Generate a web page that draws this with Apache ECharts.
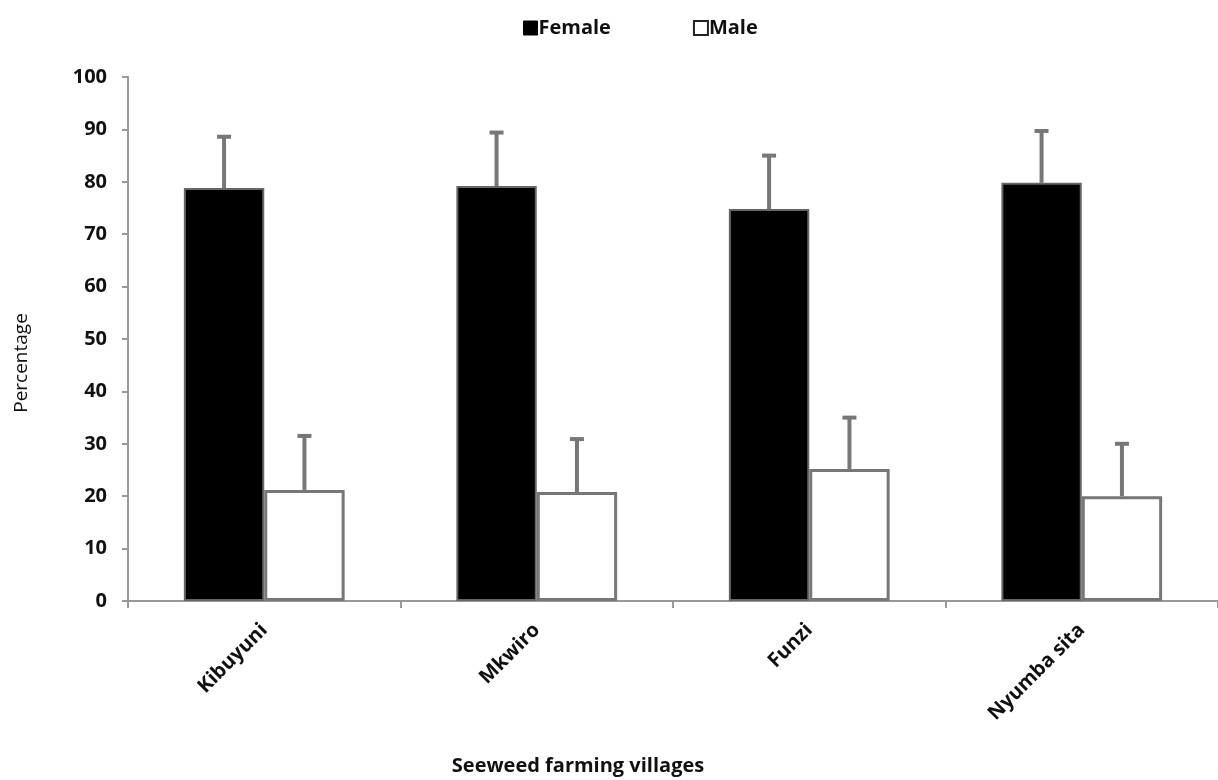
<!DOCTYPE html>
<html>
<head>
<meta charset="utf-8">
<script src="https://cdn.jsdelivr.net/npm/echarts@6/dist/echarts.min.js"></script>
<style>
  html, body { margin: 0; padding: 0; background: #fff; }
  #main { width: 1218px; height: 780px; }
</style>
</head>
<body>
<div id="main"></div>
<script>
var villages = ['Kibuyuni', 'Mkwiro', 'Funzi', 'Nyumba sita'];
var female = [78.8, 79.2, 74.8, 79.8];
var male = [21.2, 20.8, 25.2, 20.0];
var femaleErr = [9.8, 10.2, 10.2, 9.9];
var maleErr = [10.3, 10.1, 9.8, 10.0];
var yTicks = [0, 10, 20, 30, 40, 50, 60, 70, 80, 90, 100];

var gapPct = 0.41;
var chart = echarts.init(document.getElementById('main'));

// error bar, drawn only upward like the original
function errBar(vals, errs, side) {
  return function (params, api) {
    var i = api.value(0);
    var band = api.size([1, 0])[0];
    var bw = band * (1 - gapPct) / 2;
    var top = api.coord([i, vals[i] + errs[i]]);
    var base = api.coord([i, vals[i]]);
    var x = base[0] + side * bw / 2;
    var st = { stroke: '#777', lineWidth: 4 };
    return {
      type: 'group',
      children: [
        { type: 'line', shape: { x1: x, y1: base[1], x2: x, y2: top[1] }, style: st },
        { type: 'line', shape: { x1: x - 7, y1: top[1], x2: x + 7, y2: top[1] }, style: st }
      ]
    };
  };
}

var labelFont = { fontFamily: 'Open Sans', fontWeight: 'bold', fontSize: 20, color: '#111' };

var option = {
  backgroundColor: '#fff',
  animation: false,
  legend: {
    top: 13,
    left: 518,
    itemGap: 82,
    itemWidth: 14,
    itemHeight: 14,
    textStyle: { fontFamily: 'Open Sans', fontWeight: 'bold', fontSize: 20, color: '#111', padding: [0, 0, 0, -4] },
    data: [
      { name: 'Female', icon: 'rect', itemStyle: { color: '#000', borderColor: '#000', borderWidth: 1 } },
      { name: 'Male', icon: 'rect', itemStyle: { color: '#fff', borderColor: '#222', borderWidth: 2 } }
    ]
  },
  grid: { left: 128, right: 0, top: 77, bottom: 179 },
  xAxis: {
    type: 'category',
    data: villages,
    axisLine: { lineStyle: { color: '#999', width: 2 } },
    axisTick: { show: true, length: 7, lineStyle: { color: '#999', width: 2 } },
    axisLabel: Object.assign({ rotate: 45, margin: 26 }, labelFont)
  },
  yAxis: {
    type: 'value',
    min: 0,
    max: 100,
    interval: 10,
    splitLine: { show: false },
    axisLine: { show: true, lineStyle: { color: '#999', width: 2 } },
    axisTick: { show: true, length: 6, lineStyle: { color: '#999', width: 2 } },
    axisLabel: Object.assign({ margin: 21, formatter: function (v) { return yTicks.indexOf(v) >= 0 ? String(v) : ''; } }, labelFont)
  },
  graphic: [
    { type: 'text', x: 22, y: 363, rotation: Math.PI / 2,
      style: { text: 'Percentage', font: '19px "Open Sans"', fill: '#111', textAlign: 'center', textVerticalAlign: 'middle' } },
    { type: 'text', x: 578, y: 766,
      style: { text: 'Seeweed farming villages', font: 'bold 20px "Open Sans"', fill: '#111', textAlign: 'center', textVerticalAlign: 'middle' } }
  ],
  series: [
    {
      name: 'Female', type: 'bar', data: female,
      barGap: '0%', barCategoryGap: (gapPct * 100) + '%',
      itemStyle: { color: '#000', borderColor: '#666', borderWidth: 2 }
    },
    {
      name: 'Male', type: 'bar', data: male,
      itemStyle: { color: '#fff', borderColor: '#777', borderWidth: 3 }
    },
    {
      type: 'custom', name: 'femaleErr', renderItem: errBar(female, femaleErr, -1),
      data: villages.map(function (v, i) { return [i]; }), z: 5
    },
    {
      type: 'custom', name: 'maleErr', renderItem: errBar(male, maleErr, 1),
      data: villages.map(function (v, i) { return [i]; }), z: 5
    }
  ]
};
chart.setOption(option);
</script>
</body>
</html>
